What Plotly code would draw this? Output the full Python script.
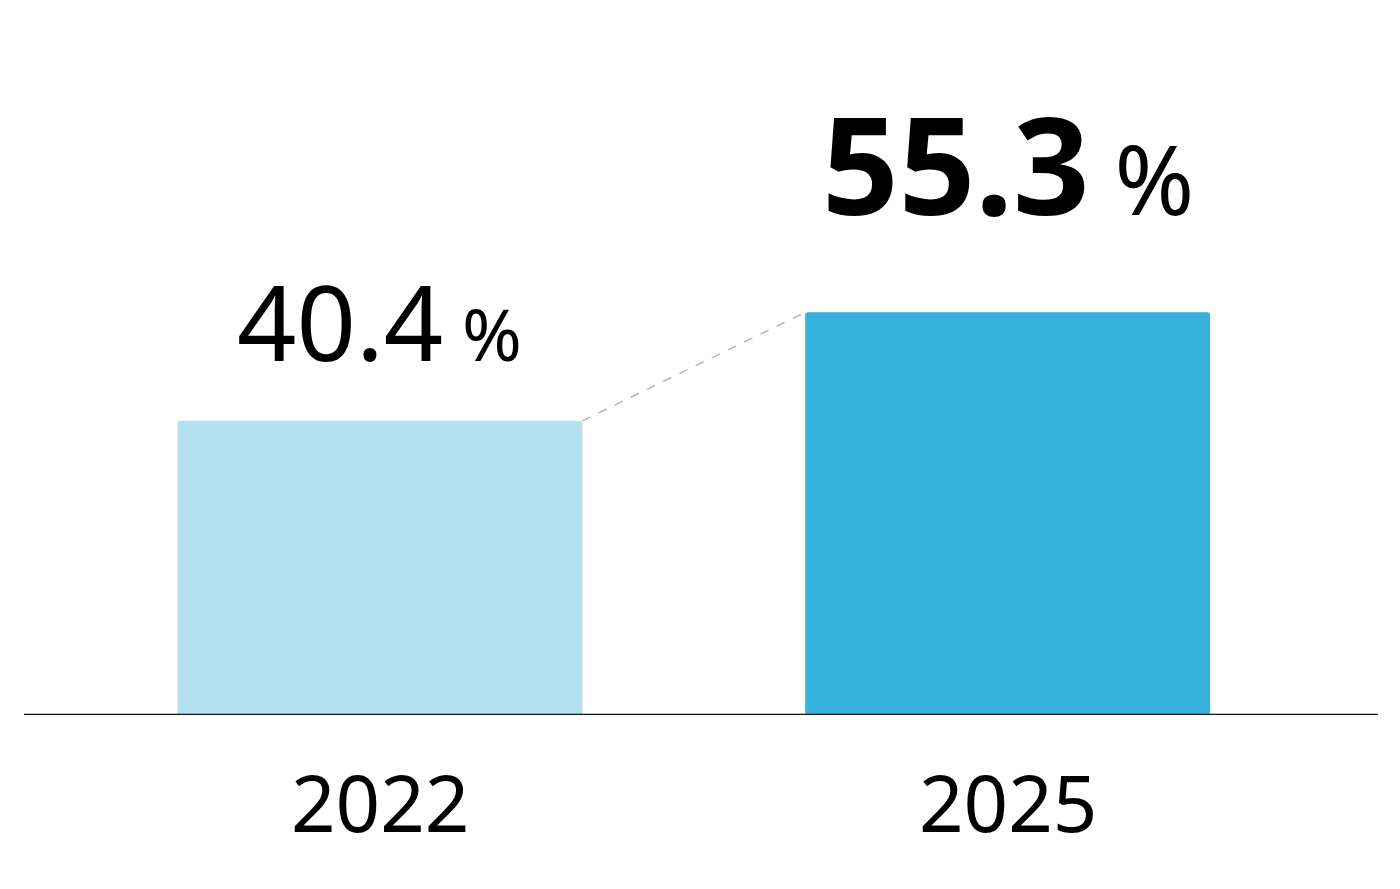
import plotly.graph_objects as go

years = ["2022", "2025"]
values = [40.4, 55.3]
colors = ["#b3e1f2", "#36b0dc"]
W = 0.645
xs = [0, 1]

fig = go.Figure()
fig.add_trace(go.Bar(x=xs, y=values, width=W, marker=dict(color=colors, line_width=0, cornerradius=3)))
fig.add_trace(go.Scatter(x=[xs[0] + W / 2, xs[1] - W / 2], y=values, mode="lines",
                         line=dict(color="#b5b5b5", width=1.5, dash="dash"), hoverinfo="skip"))
fig.add_annotation(x=xs[0], y=values[0], yshift=28, yanchor="bottom", showarrow=False,
                   text=f"<span style='font-size:104px'>{values[0]}</span><span style='font-size:72px'> %</span>",
                   font=dict(family="Noto Sans", color="#000"))
fig.add_annotation(x=xs[1], y=values[1], yshift=56, yanchor="bottom", showarrow=False,
                   text=f"<b><span style='font-size:134px'>{values[1]}</span></b><span style='font-size:96px'> %</span>",
                   font=dict(family="Noto Sans", color="#000"))
for x, yr in zip(xs, years):
    fig.add_annotation(x=x, y=0, yref="y", yshift=-32, yanchor="top", showarrow=False,
                       text=yr, font=dict(family="Noto Sans", size=78, color="#000"))
fig.update_layout(width=1400, height=889, margin=dict(l=16, r=30, t=0, b=182),
                  plot_bgcolor="white", paper_bgcolor="white", showlegend=False,
                  xaxis=dict(range=[-0.567, 1.590], visible=False),
                  yaxis=dict(range=[0, 97.1], visible=False))
fig.add_shape(type="line", xref="paper", yref="y", x0=0, x1=1, y0=0, y1=0, line=dict(color="#111", width=2.5))
fig.write_html("out.html")
